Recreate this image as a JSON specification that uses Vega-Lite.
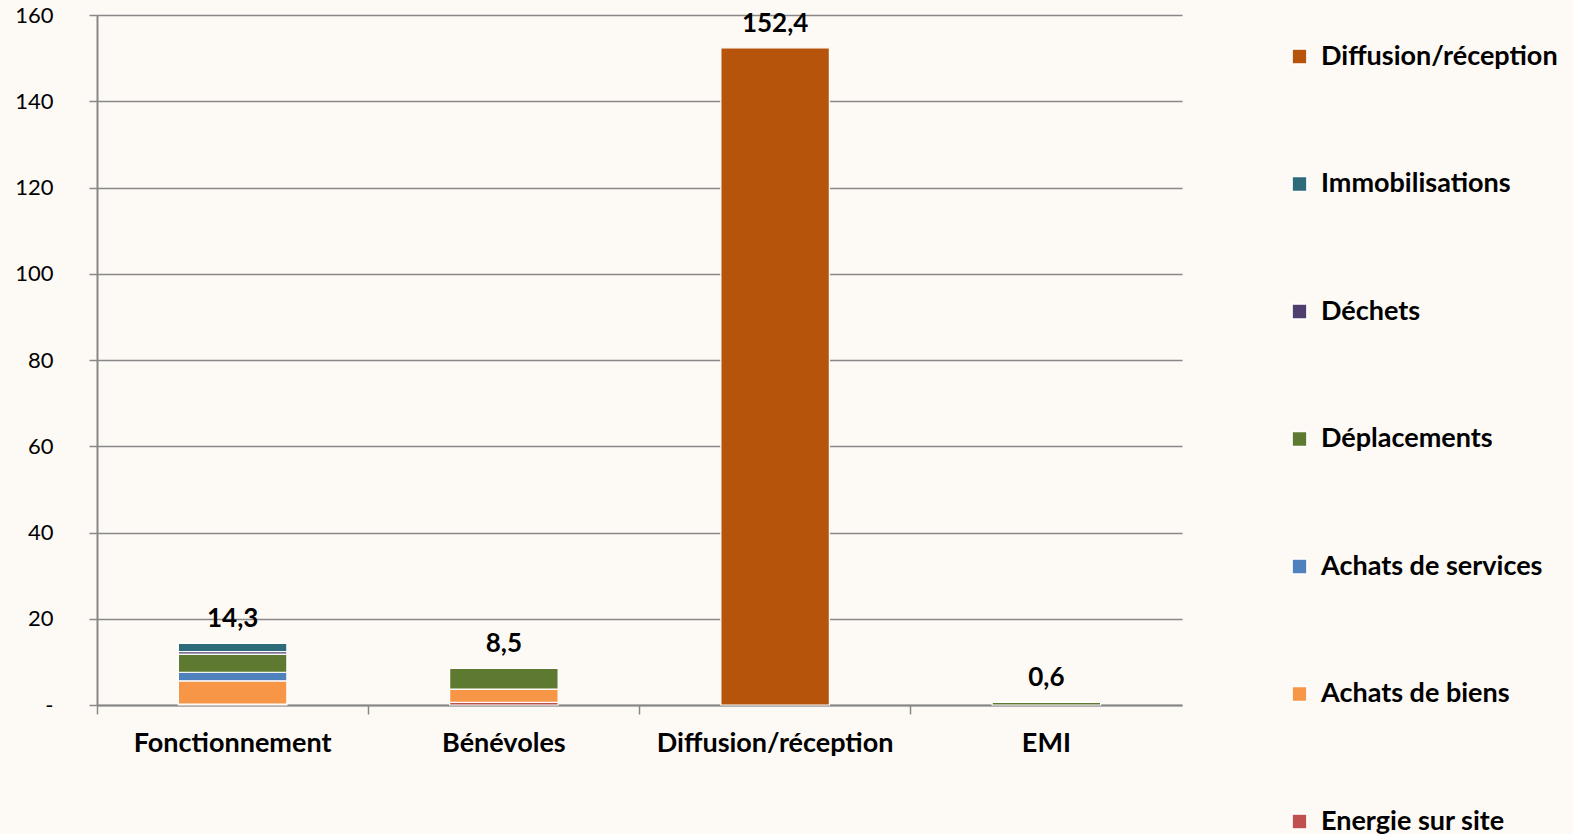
{
  "$schema": "https://vega.github.io/schema/vega-lite/v6.json",
  "autosize": {"type": "none"},
  "padding": {"left": 97, "top": 15, "right": 391, "bottom": 129},
  "width": 1085,
  "height": 690,
  "background": "#FDF9F5",
  "config": {
    "view": {"stroke": null},
    "font": "Lato",
    "locale": {"number": {"decimal": ",", "thousands": " ", "grouping": [3], "currency": ["", " €"]}}
  },
  "data": {
    "values": [
      {"poste": "Fonctionnement", "categorie": "Energie sur site", "rang": 1, "valeur": 0.2},
      {"poste": "Fonctionnement", "categorie": "Achats de biens", "rang": 2, "valeur": 5.4},
      {"poste": "Fonctionnement", "categorie": "Achats de services", "rang": 3, "valeur": 2.0},
      {"poste": "Fonctionnement", "categorie": "Déplacements", "rang": 4, "valeur": 4.2},
      {"poste": "Fonctionnement", "categorie": "Déchets", "rang": 5, "valeur": 0.6},
      {"poste": "Fonctionnement", "categorie": "Immobilisations", "rang": 6, "valeur": 1.9},
      {"poste": "Bénévoles", "categorie": "Energie sur site", "rang": 1, "valeur": 0.6},
      {"poste": "Bénévoles", "categorie": "Achats de biens", "rang": 2, "valeur": 3.1},
      {"poste": "Bénévoles", "categorie": "Déplacements", "rang": 4, "valeur": 4.8},
      {"poste": "Diffusion/réception", "categorie": "Diffusion/réception", "rang": 7, "valeur": 152.4},
      {"poste": "EMI", "categorie": "Déplacements", "rang": 4, "valeur": 0.6}
    ]
  },
  "encoding": {
    "x": {
      "field": "poste", "type": "nominal",
      "sort": ["Fonctionnement", "Bénévoles", "Diffusion/réception", "EMI"],
      "scale": {"paddingInner": 0.6, "paddingOuter": 0.3},
      "axis": {
        "title": null, "labelAngle": 0, "labelFontSize": 27, "labelFontWeight": "bold",
        "labelColor": "#000", "labelPadding": 16, "labelLimit": 400, "tickSize": 9, "tickColor": "#888",
        "tickWidth": 1.5, "bandPosition": -0.75, "domainColor": "#888", "domainWidth": 2
      }
    }
  },
  "layer": [
    {
      "mark": {"type": "bar", "stroke": "#ffffff", "strokeWidth": 1.2},
      "encoding": {
        "y": {
          "field": "valeur", "type": "quantitative", "aggregate": "sum",
          "scale": {"domain": [0, 160]},
          "axis": {
            "title": null, "values": [0, 20, 40, 60, 80, 100, 120, 140, 160],
            "labelExpr": "datum.value == 0 ? '-' : datum.label",
            "labelFontSize": 22, "labelColor": "#000", "labelPadding": 36,
            "tickSize": 8, "tickColor": "#888", "tickWidth": 1.5,
            "gridColor": "#888", "gridWidth": 1.5, "domainColor": "#888", "domainWidth": 2
          }
        },
        "order": {"field": "rang", "type": "quantitative", "sort": "ascending"},
        "color": {
          "field": "categorie", "type": "nominal",
          "sort": ["Diffusion/réception", "Immobilisations", "Déchets", "Déplacements", "Achats de services", "Achats de biens", "Energie sur site"],
          "scale": {
            "domain": ["Diffusion/réception", "Immobilisations", "Déchets", "Déplacements", "Achats de services", "Achats de biens", "Energie sur site"],
            "range": ["#B5540A", "#2E6B7A", "#4F3F6E", "#5E7A30", "#4F81BD", "#F79646", "#C0504D"]
          },
          "legend": {
            "title": null, "orient": "none", "legendX": 1189, "legendY": 28,
            "symbolType": "square", "symbolSize": 220, "symbolStrokeColor": "#ffffff", "symbolStrokeWidth": 1.5,
            "labelFontSize": 27, "labelFontWeight": "bold", "labelColor": "#000",
            "rowPadding": 99.5, "labelOffset": 8, "labelLimit": 400
          }
        }
      }
    },
    {
      "mark": {"type": "text", "fontSize": 26, "fontWeight": "bold", "color": "#000", "baseline": "middle", "dy": -24},
      "encoding": {
        "y": {"field": "valeur", "type": "quantitative", "aggregate": "sum"},
        "text": {"field": "valeur", "type": "quantitative", "aggregate": "sum", "format": ".1f"}
      }
    }
  ]
}
